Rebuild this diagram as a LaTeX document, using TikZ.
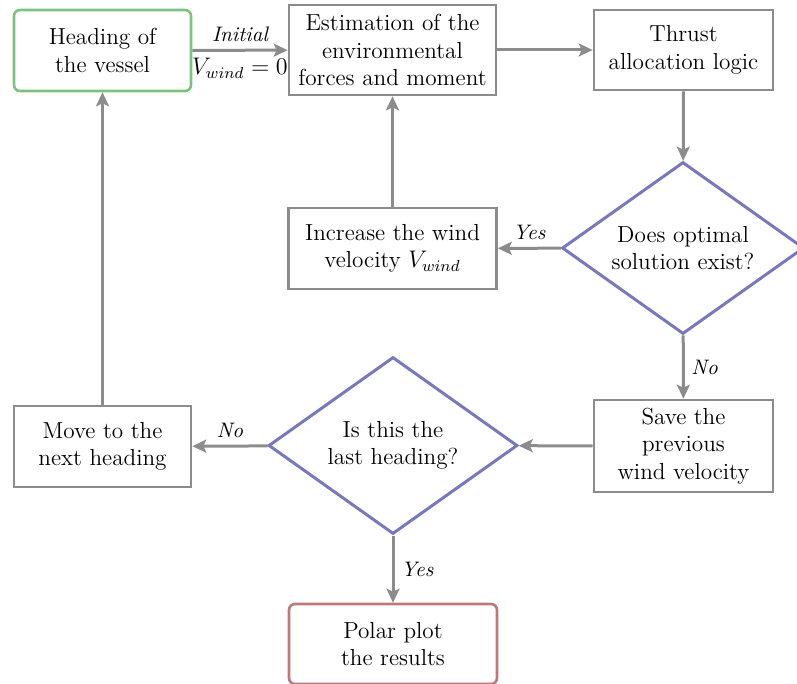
\documentclass[tikz,border=0pt]{standalone}
\usetikzlibrary{shapes.geometric,arrows.meta}
\definecolor{lgray}{RGB}{140,140,140}
\definecolor{lgreen}{RGB}{125,195,125}
\definecolor{lblue}{RGB}{120,120,190}
\definecolor{lred}{RGB}{190,120,120}
\begin{document}
\begin{tikzpicture}[x=0.5pt,y=-0.5pt,
  every node/.style={font=\fontsize{11.6}{13.8}\selectfont},
  box/.style={draw=lgray,line width=1.3pt,align=center,inner sep=2pt},
  startbox/.style={box,draw=lgreen,rounded corners=3pt},
  endbox/.style={box,draw=lred,rounded corners=3pt},
  decision/.style={diamond,aspect=1.4,draw=lblue,line width=1.5pt,align=center,inner sep=0pt},
  arr/.style={draw=lgray,line width=1.5pt,-{Stealth[length=7pt,width=6.5pt,inset=1.5pt]}},
  lbl/.style={font=\fontsize{10.5}{12}\selectfont\itshape,text=black}]
\useasboundingbox (0,0) rectangle (797,684);
\node[startbox,minimum width=88.5pt,minimum height=40.5pt] (heading) at (102.5,50.5) {Heading of\\the vessel};
\node[box,minimum width=103.5pt,minimum height=45pt] (est) at (392.5,50) {Estimation of the\\environmental\\forces and moment};
\node[box,minimum width=89.5pt,minimum height=40pt] (thrust) at (683.5,50) {Thrust\\allocation logic};
\node[decision,minimum width=121pt,minimum height=86pt] (d1) at (683,248) {Does optimal\\solution exist?};
\node[box,minimum width=104pt,minimum height=40.5pt] (inc) at (392.5,248.5) {Increase the wind\\velocity $V_{wind}$};
\node[box,minimum width=89.5pt,minimum height=46pt] (save) at (683.5,446) {Save the\\previous\\wind velocity};
\node[decision,minimum width=124.5pt,minimum height=88.5pt] (d2) at (393,445.5) {Is this the\\last heading?};
\node[box,minimum width=88.5pt,minimum height=40.5pt] (move) at (102.5,446.5) {Move to the\\next heading};
\node[endbox,minimum width=104pt,minimum height=40pt] (polar) at (393,644) {Polar plot\\the results};

\draw[arr] (heading) -- (est)
  node[midway,above,lbl] {Initial}
  node[midway,below,font=\fontsize{11.6}{13.8}\selectfont] {$V_{wind}=0$};
\draw[arr] (est) -- (thrust);
\draw[arr] (thrust) -- (d1);
\draw[arr] (d1) -- (inc) node[midway,above,lbl] {Yes};
\draw[arr] (inc) -- (est);
\draw[arr] (d1) -- (save) node[midway,right,lbl] {No};
\draw[arr] (save) -- (d2);
\draw[arr] (d2) -- (move) node[midway,above,lbl] {No};
\draw[arr] (move) -- (heading);
\draw[arr] (d2) -- (polar) node[midway,right,lbl] {Yes};
\end{tikzpicture}
\end{document}
